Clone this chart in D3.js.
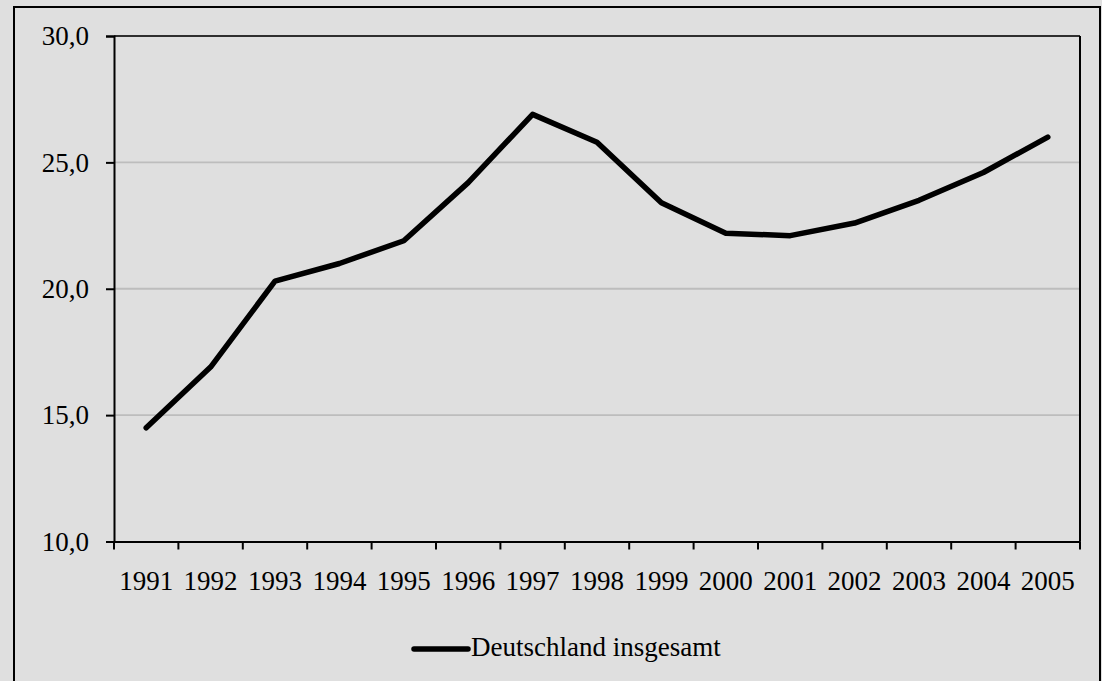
<!DOCTYPE html>
<html><head><meta charset="utf-8">
<script src="https://cdn.jsdelivr.net/npm/d3@7"></script>
<style>html,body{margin:0;padding:0;background:#dfdfdf;}svg{display:block;}
svg text{font-family:"Liberation Serif","Times New Roman",Times,serif !important;font-size:27px !important;fill:#000;}</style>
</head><body>
<script>
const years = ["1991","1992","1993","1994","1995","1996","1997","1998","1999","2000","2001","2002","2003","2004","2005"];
const values = [14.5,16.9,20.3,21.0,21.9,24.2,26.9,25.8,23.4,22.2,22.1,22.6,23.5,24.6,26.0];
const yTicks = [10,15,20,25,30];
const seriesName = "Deutschland insgesamt";

const W = 1102, H = 681;
const svg = d3.select("body").append("svg").attr("width", W).attr("height", H);
svg.append("rect").attr("width", W).attr("height", H).attr("fill", "#dfdfdf");
svg.append("rect").attr("x", 14).attr("y", 7).attr("width", 1086).attr("height", 690)
  .attr("fill", "none").attr("stroke", "#000").attr("stroke-width", 2);

const L = 114, R = 1080, T = 36, B = 541.5;
const x = d3.scaleBand().domain(years).range([L, R]);
const y = d3.scaleLinear().domain([10, 30]).range([B, T]);

// gridlines
svg.append("g").selectAll("line").data(yTicks.filter(d => d > 10)).join("line")
  .attr("x1", L).attr("x2", R).attr("y1", d => y(d)).attr("y2", d => y(d))
  .attr("stroke", "#bdbdbd").attr("stroke-width", 1.8);

// plot border top & right
svg.append("line").attr("x1", L).attr("x2", R).attr("y1", T).attr("y2", T).attr("stroke", "#000").attr("stroke-width", 1.5);
svg.append("line").attr("x1", R).attr("x2", R).attr("y1", T).attr("y2", B).attr("stroke", "#000").attr("stroke-width", 2);

// y axis
const yAxis = d3.axisLeft(y).tickValues(yTicks).tickSize(8).tickPadding(17)
  .tickFormat(d => d3.format(".1f")(d).replace(".", ","));
const gy = svg.append("g").attr("transform", `translate(${L},0)`).call(yAxis);
gy.attr("font-family", null).attr("font-size", null);
gy.select(".domain").attr("stroke", "#000").attr("stroke-width", 2);
gy.selectAll(".tick line").attr("stroke", "#000").attr("stroke-width", 2);

// x axis
const xAxis = d3.axisBottom(x).tickSize(0).tickPadding(29);
const gx = svg.append("g").attr("transform", `translate(0,${B})`).call(xAxis);
gx.attr("font-family", null).attr("font-size", null);
gx.select(".domain").attr("stroke", "#000").attr("stroke-width", 2);
// category boundary ticks
const bounds = years.map(d => x(d)).concat([x(years[years.length-1]) + x.bandwidth()]);
svg.append("g").selectAll("line").data(bounds).join("line")
  .attr("x1", d => d).attr("x2", d => d).attr("y1", B).attr("y2", B + 8)
  .attr("stroke", "#000").attr("stroke-width", 2);

// series line
const line = d3.line().x((d, i) => x(years[i]) + x.bandwidth() / 2).y(d => y(d));
svg.append("path").datum(values).attr("d", line)
  .attr("fill", "none").attr("stroke", "#000").attr("stroke-width", 5.5)
  .attr("stroke-linejoin", "round").attr("stroke-linecap", "round");

// legend
const lg = svg.append("g");
lg.append("line").attr("x1", 414).attr("x2", 468).attr("y1", 649).attr("y2", 649)
  .attr("stroke", "#000").attr("stroke-width", 5.5).attr("stroke-linecap", "round");
lg.append("text").attr("x", 471).attr("y", 656).text(seriesName);
</script>
</body></html>
